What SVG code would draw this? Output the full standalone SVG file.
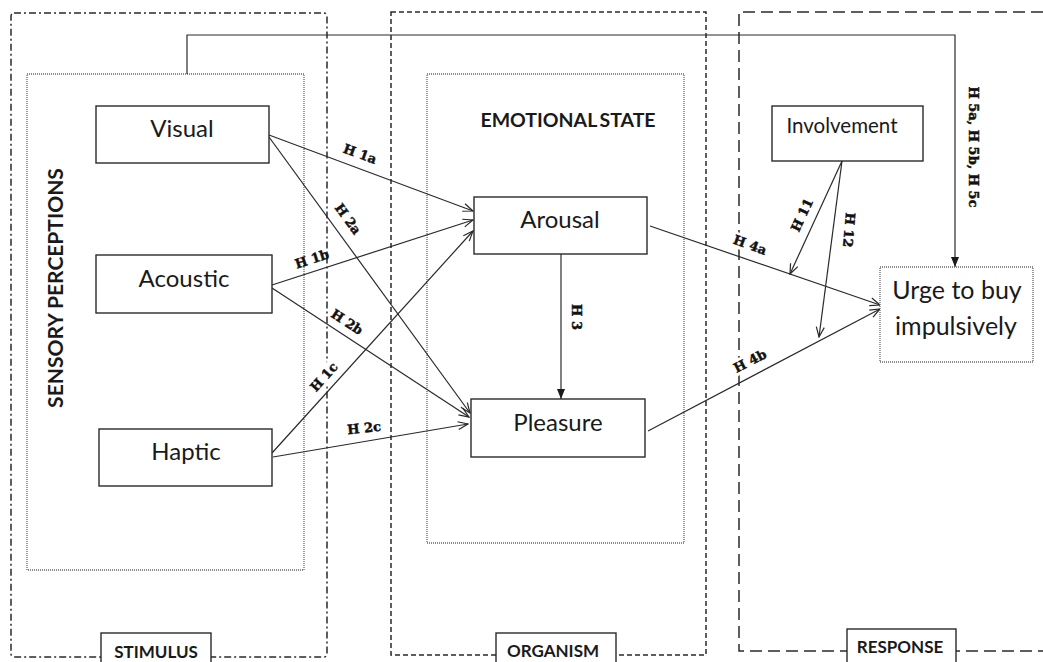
<svg xmlns="http://www.w3.org/2000/svg" width="1043" height="662" viewBox="0 0 1043 662">
<style>
.bg{fill:#fff}
.node{fill:#fff;stroke:#2a2a2a;stroke-width:1.4}
.nt{font-family:Lato,"Liberation Sans",sans-serif;fill:#1a1a1a;text-anchor:middle}
.bold{font-weight:bold}
.lab{font-family:"DejaVu Serif","Liberation Serif",serif;font-weight:900;font-size:13px;fill:#111;stroke:#111;stroke-width:0.45;text-anchor:middle;dominant-baseline:central}
.conn{fill:none;stroke:#2a2a2a;stroke-width:1.2}
.dot{fill:none;stroke:#666;stroke-width:1.3;stroke-dasharray:1 1}
.stim{fill:none;stroke:#2a2a2a;stroke-width:1.5;stroke-dasharray:7 3 2 3}
.org{fill:none;stroke:#2a2a2a;stroke-width:1.5;stroke-dasharray:5 3}
.resp{fill:none;stroke:#2a2a2a;stroke-width:1.5;stroke-dasharray:12 6}
.lbg{fill:#fff;stroke:none}
</style>
<defs>
<marker id="open" viewBox="0 0 12 10" refX="11" refY="5" markerWidth="12" markerHeight="10" markerUnits="userSpaceOnUse" orient="auto">
<path d="M1,1 L11,5 L1,9" fill="none" stroke="#2a2a2a" stroke-width="1.2"/>
</marker>
<marker id="fill" viewBox="0 0 10 8" refX="10" refY="4" markerWidth="10" markerHeight="8" markerUnits="userSpaceOnUse" orient="auto">
<path d="M0,0 L10,4 L0,8 z" fill="#1a1a1a"/>
</marker>
</defs>
<rect width="1043" height="662" class="bg"/>

<g id="stimulus-frame">
<rect x="11" y="13" width="316" height="644" rx="3" class="stim"/>
</g>
<g id="organism-frame">
<rect x="391" y="12" width="315" height="643" class="org"/>
</g>
<g id="response-frame">
<path d="M1043,12 H739 V651 H1043" class="resp"/>
</g>
<g id="sensory-perceptions">
<rect x="27" y="74" width="277" height="496" class="dot"/>
<text class="nt bold" font-size="21" transform="translate(63,288) rotate(-90)">SENSORY PERCEPTIONS</text>
</g>
<g id="emotional-state">
<rect x="427" y="74" width="257" height="469" class="dot"/>
<text class="nt bold" font-size="19.5" x="568" y="127" word-spacing="-2">EMOTIONAL STATE</text>
</g>

<g id="label-backgrounds">
<rect class="lbg" x="-19" y="-8" width="38" height="16" transform="translate(324,377) rotate(-48)"/>
<rect class="lbg" x="-19" y="-8" width="38" height="16" transform="translate(750,245) rotate(20)"/>
<rect class="lbg" x="-19" y="-8" width="38" height="16" transform="translate(750,361) rotate(-27)"/>
</g>

<g id="connectors">
<path class="conn" d="M187,74 V35 H955 V267" marker-end="url(#fill)"/>
<line class="conn" x1="269" y1="135" x2="473" y2="211" marker-end="url(#open)"/>
<line class="conn" x1="269" y1="137" x2="470" y2="413" marker-end="url(#open)"/>
<line class="conn" x1="272" y1="285" x2="473" y2="220" marker-end="url(#open)"/>
<line class="conn" x1="272" y1="288" x2="469" y2="417" marker-end="url(#open)"/>
<line class="conn" x1="272" y1="453" x2="473" y2="231" marker-end="url(#open)"/>
<line class="conn" x1="273" y1="457" x2="468" y2="424" marker-end="url(#open)"/>
<line class="conn" x1="561" y1="254" x2="561" y2="399" marker-end="url(#fill)"/>
<line class="conn" x1="650" y1="226" x2="880" y2="305" marker-end="url(#open)"/>
<line class="conn" x1="648" y1="431" x2="880" y2="309" marker-end="url(#open)"/>
<line class="conn" x1="842" y1="161" x2="790" y2="274" marker-end="url(#open)"/>
<line class="conn" x1="842" y1="161" x2="819" y2="337" marker-end="url(#open)"/>
</g>

<g id="connector-labels">
<text class="lab" transform="translate(360,154) rotate(20)">H 1a</text>
<text class="lab" transform="translate(348,219) rotate(54)">H 2a</text>
<text class="lab" transform="translate(312,259) rotate(-18)">H 1b</text>
<text class="lab" transform="translate(347,322) rotate(33)">H 2b</text>
<text class="lab" transform="translate(324,377) rotate(-48)">H 1c</text>
<text class="lab" transform="translate(364,428) rotate(-6)">H 2c</text>
<text class="lab" transform="translate(576,317) rotate(90)">H 3</text>
<text class="lab" transform="translate(750,245) rotate(20)">H 4a</text>
<text class="lab" transform="translate(750,361) rotate(-27)">H 4b</text>
<text class="lab" transform="translate(802,215) rotate(-65)">H 11</text>
<text class="lab" transform="translate(849,230) rotate(95)">H 12</text>
<text class="lab" transform="translate(973,147) rotate(90)">H 5a, H 5b, H 5c</text>
</g>

<g id="visual">
<rect x="96" y="106" width="173" height="57" class="node"/>
<text class="nt" font-size="24" x="182" y="137">Visual</text>
</g>
<g id="acoustic">
<rect x="96" y="255" width="176" height="58" class="node"/>
<text class="nt" font-size="24" x="184" y="287">Acoustic</text>
</g>
<g id="haptic">
<rect x="99" y="429" width="173" height="57" class="node"/>
<text class="nt" font-size="24" x="186" y="460">Haptic</text>
</g>
<g id="arousal">
<rect x="474" y="197" width="173" height="57" class="node"/>
<text class="nt" font-size="24" x="560" y="228">Arousal</text>
</g>
<g id="pleasure">
<rect x="471" y="399" width="174" height="58" class="node"/>
<text class="nt" font-size="24" x="558" y="431">Pleasure</text>
</g>
<g id="involvement">
<rect x="772" y="106" width="151" height="55" class="node"/>
<text class="nt" font-size="20.5" x="842" y="133">Involvement</text>
</g>
<g id="urge">
<rect x="880" y="267" width="153" height="95" class="dot" style="fill:#fff"/>
<text class="nt" font-size="25" x="957" y="299">Urge to buy</text>
<text class="nt" font-size="25" x="956" y="335">impulsively</text>
</g>

<g id="stimulus-label">
<rect x="101" y="633" width="110" height="40" class="node"/>
<text class="nt bold" font-size="17" x="156" y="658">STIMULUS</text>
</g>
<g id="organism-label">
<rect x="496" y="633" width="120" height="40" class="node"/>
<text class="nt bold" font-size="17" x="553" y="657">ORGANISM</text>
</g>
<g id="response-label">
<rect x="847" y="629" width="109" height="40" class="node"/>
<text class="nt bold" font-size="17" x="900" y="653">RESPONSE</text>
</g>
</svg>
